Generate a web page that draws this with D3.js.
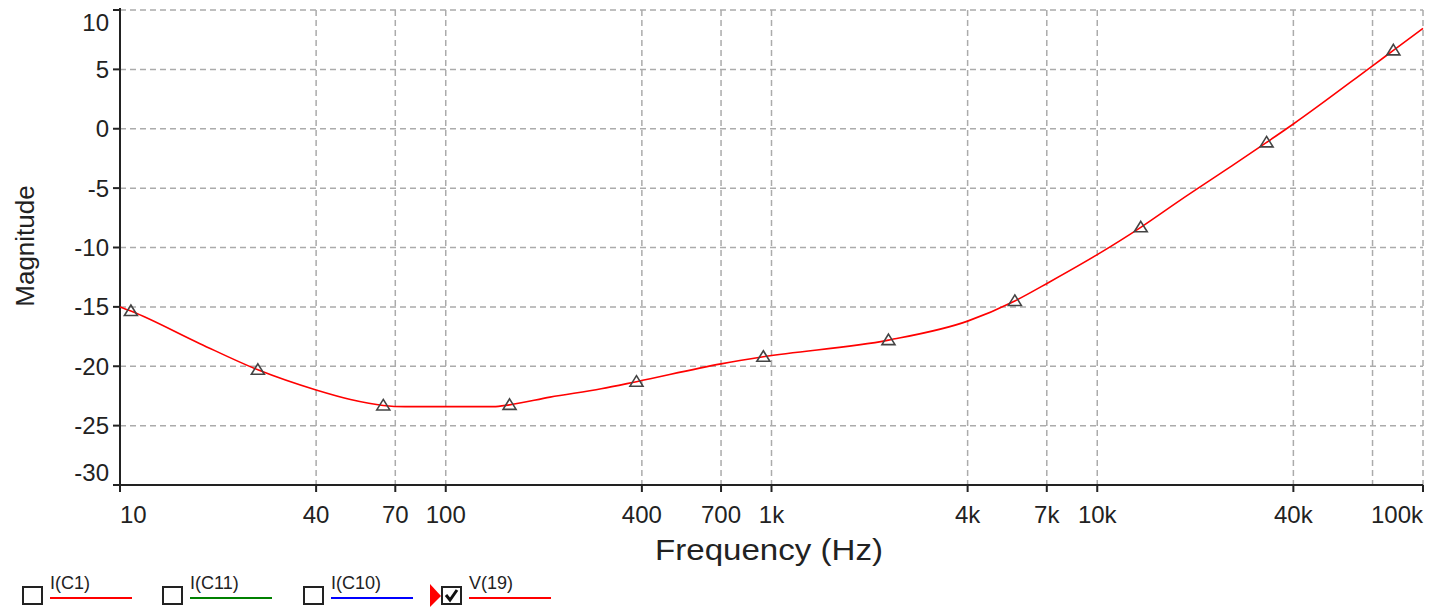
<!DOCTYPE html>
<html>
<head>
<meta charset="utf-8">
<script src="https://cdn.jsdelivr.net/npm/d3@7"></script>
<style>
  html, body { margin: 0; padding: 0; background: #fff; }
  svg { display: block; }
  text { font-family: "Liberation Sans", Arial, sans-serif; fill: #222; }
</style>
</head>
<body>
<svg id="chart" width="1441" height="610"></svg>
<script>
// ---- data ----
const lineFreq = [10, 10.8, 17.6, 26.5, 40, 51, 64.3, 75, 100, 140, 157, 209, 300, 385, 700, 944, 2286, 4000, 5585, 7140, 10000, 13600, 17900, 25000, 33100, 40000, 70000, 81100, 100000];
const lineMag  = [-15.0, -15.35, -18.1, -20.3, -22.0, -22.8, -23.3, -23.4, -23.4, -23.4, -23.25, -22.6, -21.9, -21.3, -19.8, -19.2, -17.8, -16.2, -14.5, -12.9, -10.6, -8.3, -6.05, -3.4, -1.15, 0.4, 5.3, 6.6, 8.45];
const markerFreq = [10.8, 26.5, 64.3, 157, 385, 944, 2286, 5585, 13600, 33100, 81100];
const markerMag  = [-15.35, -20.3, -23.3, -23.25, -21.3, -19.2, -17.8, -14.5, -8.3, -1.15, 6.6];
const xTickVals   = [10, 40, 70, 100, 400, 700, 1000, 4000, 7000, 10000, 40000, 100000];
const xTickLabels = ["10", "40", "70", "100", "400", "700", "1k", "4k", "7k", "10k", "40k", "100k"];
const xGridVals   = [40, 70, 100, 400, 700, 1000, 4000, 7000, 10000, 40000, 70000, 100000];
const yTickVals   = [-30, -25, -20, -15, -10, -5, 0, 5, 10];
const legendNames  = ["I(C1)", "I(C11)", "I(C10)", "V(19)"];
const legendColors = ["#ff0000", "#008000", "#0000ff", "#ff0000"];
const legendChecked = [false, false, false, true];

// ---- layout ----
const L = 120, R = 1423, T = 10, B = 485;
const svg = d3.select("#chart");
const x = d3.scaleLog().domain([10, 100000]).range([L, R]);
const y = d3.scaleLinear().domain([-30, 10]).range([B, T]);

// grid
const grid = svg.append("g").attr("stroke", "#ababab").attr("stroke-width", 1.5).attr("stroke-dasharray", "6,4");
grid.selectAll("line.v").data(xGridVals).join("line").attr("class", "v")
  .attr("x1", d => x(d)).attr("x2", d => x(d)).attr("y1", T).attr("y2", B);
grid.selectAll("line.h").data(yTickVals.filter(v => v > -30)).join("line").attr("class", "h")
  .attr("x1", L).attr("x2", R).attr("y1", d => y(d)).attr("y2", d => y(d));

// axes lines
const ax = svg.append("g").attr("stroke", "#222").attr("stroke-width", 2);
ax.append("line").attr("x1", L).attr("x2", L).attr("y1", T - 2).attr("y2", B + 6);
ax.append("line").attr("x1", L - 7).attr("x2", R).attr("y1", B).attr("y2", B);
ax.selectAll("line.yt").data(yTickVals).join("line").attr("class", "yt")
  .attr("x1", L - 7).attr("x2", L).attr("y1", d => y(d)).attr("y2", d => y(d));
ax.selectAll("line.xt").data(xTickVals).join("line").attr("class", "xt")
  .attr("x1", d => x(d)).attr("x2", d => x(d)).attr("y1", B).attr("y2", B + 7);

// y tick labels
svg.append("g").selectAll("text").data(yTickVals).join("text")
  .attr("x", L - 11)
  .attr("y", d => d === 10 ? y(d) + 13 : (d === -30 ? y(d) - 12 : y(d)))
  .attr("dy", "0.35em")
  .attr("text-anchor", "end")
  .attr("font-size", 24)
  .text(d => d);

// x tick labels
svg.append("g").selectAll("text").data(xTickVals).join("text")
  .attr("x", d => x(d))
  .attr("y", 523)
  .attr("text-anchor", (d, i) => i === 0 ? "start" : (i === xTickVals.length - 1 ? "end" : "middle"))
  .attr("font-size", 24)
  .text((d, i) => xTickLabels[i]);

// axis titles
svg.append("text").attr("x", 655).attr("y", 560).attr("font-size", 30)
  .attr("textLength", 228).attr("lengthAdjust", "spacingAndGlyphs")
  .text("Frequency (Hz)");
svg.append("text").attr("transform", "translate(34,246) rotate(-90)")
  .attr("text-anchor", "middle").attr("font-size", 26).text("Magnitude");

// curve
const pts = lineFreq.map((f, i) => [x(f), y(lineMag[i])]);
svg.append("path").attr("d", d3.line().curve(d3.curveMonotoneX)(pts))
  .attr("fill", "none").attr("stroke", "#ff0000").attr("stroke-width", 1.6);

// markers
svg.append("g").selectAll("path").data(markerFreq).join("path")
  .attr("transform", (d, i) => `translate(${x(d)},${y(markerMag[i])})`)
  .attr("d", "M0,-6 L6.5,4.5 L-6.5,4.5 Z")
  .attr("fill", "none").attr("stroke", "#444").attr("stroke-width", 1.6);

// legend
const lx = [22, 162, 303, 441];
const lg = svg.append("g");
legendNames.forEach((name, i) => {
  const g = lg.append("g").attr("transform", `translate(${lx[i]},0)`);
  g.append("rect").attr("x", 1).attr("y", 587).attr("width", 19).attr("height", 17)
    .attr("fill", "#fff").attr("stroke", "#222").attr("stroke-width", 2);
  if (legendChecked[i]) {
    g.append("path").attr("d", "M5,595 L9,600 L16,590").attr("fill", "none")
      .attr("stroke", "#111").attr("stroke-width", 3);
    g.append("path").attr("d", "M-11,584 L0,596 L-11,607 Z").attr("fill", "#ff0000");
  }
  g.append("text").attr("x", 28).attr("y", 589).attr("font-size", 18).text(name);
  g.append("line").attr("x1", 28).attr("x2", 110).attr("y1", 598).attr("y2", 598)
    .attr("stroke", legendColors[i]).attr("stroke-width", 2);
});
</script>
</body>
</html>
